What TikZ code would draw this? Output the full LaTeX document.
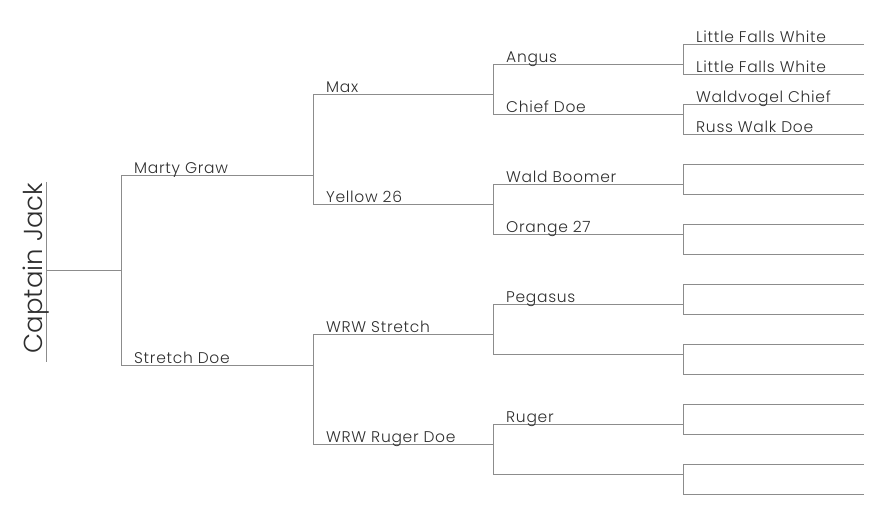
\documentclass[tikz,border=0pt]{standalone}
\usepackage{fontspec}
\setmainfont{Poppins}[UprightFont={* Light}]
\newfontfamily\namefont{Poppins}[UprightFont={* Light}, LetterSpace=4.5]
\definecolor{linegray}{HTML}{8C8C8C}
\definecolor{inkgray}{HTML}{2E2E2E}
\tikzset{
    bar/.style={draw=linegray, line width=1pt},
    lbl/.style={anchor=base west, inner sep=0pt, text=inkgray, font=\namefont\fontsize{15.5}{18}\selectfont}
}

\begin{document}
\begin{tikzpicture}[x=1pt, y=-1pt]
    \useasboundingbox (0,0) rectangle (884,526);

    % Define the line ends of each generation
    \coordinate (root) at (46,182);
    \coordinate (rootb) at (46,362);
    \coordinate (roote) at (46,271);
    \coordinate (rootf) at (121,271);
    \coordinate (sire) at (121,176);
    \coordinate (siree) at (313,176);
    \coordinate (dam) at (121,366);
    \coordinate (dame) at (313,366);
    \foreach \y [count=\i] in {95,205,335,445} {
        \coordinate (b\i) at (313,\y);
        \coordinate (b\i e) at (493,\y);
    }
    \foreach \y [count=\i] in {65,115,185,235,305,355,425,475} {
        \coordinate (c\i) at (493,\y);
        \coordinate (c\i e) at (683,\y);
    }
    \foreach \i in {1,...,16} {
        \coordinate (d\i) at (683,15+30*\i);
        \coordinate (d\i e) at (864,15+30*\i);
    }

    % Draw the horizontal lines
    \draw[bar] (roote) -- (rootf);
    \draw[bar] (sire) -- (siree);
    \draw[bar] (dam) -- (dame);
    \foreach \i in {1,...,4} \draw[bar] (b\i) -- (b\i e);
    \foreach \i in {1,...,8} \draw[bar] (c\i) -- (c\i e);
    \foreach \i in {1,...,16} \draw[bar] (d\i) -- (d\i e);

    % Draw the brackets joining each pair of parents
    \draw[bar] (root) -- (rootb);
    \draw[bar] (sire) -- (dam);
    \draw[bar] (b1) -- (b2);
    \draw[bar] (b3) -- (b4);
    \foreach \a/\b in {1/2,3/4,5/6,7/8} \draw[bar] (c\a) -- (c\b);
    \foreach \a/\b in {1/2,3/4,5/6,7/8,9/10,11/12,13/14,15/16} \draw[bar] (d\a) -- (d\b);

    % Names
    \node[lbl, rotate=90, anchor=base, font=\rmfamily\fontsize{26}{30}\selectfont] (captain) at (42,268) {Captain Jack};
    \node[lbl] (marty) at ([shift={(13,-2.5)}]sire) {Marty Graw};
    \node[lbl] (stretch) at ([shift={(13,-2.5)}]dam) {Stretch Doe};
    \node[lbl] (max) at ([shift={(13,-2.5)}]b1) {Max};
    \node[lbl] (yellow) at ([shift={(13,-2.5)}]b2) {Yellow 26};
    \node[lbl] (wrwstretch) at ([shift={(13,-2.5)}]b3) {WRW Stretch};
    \node[lbl] (wrwruger) at ([shift={(13,-2.5)}]b4) {WRW Ruger Doe};
    \node[lbl] (angus) at ([shift={(13,-2.5)}]c1) {Angus};
    \node[lbl] (chief) at ([shift={(13,-2.5)}]c2) {Chief Doe};
    \node[lbl] (boomer) at ([shift={(13,-2.5)}]c3) {Wald Boomer};
    \node[lbl] (orange) at ([shift={(13,-2.5)}]c4) {Orange 27};
    \node[lbl] (pegasus) at ([shift={(13,-2.5)}]c5) {Pegasus};
    \node[lbl] (ruger) at ([shift={(13,-2.5)}]c7) {Ruger};
    \node[lbl] (falls) at ([shift={(13,-2.5)}]d1) {Little Falls White};
    \node[lbl] (fallsb) at ([shift={(13,-2.5)}]d2) {Little Falls White};
    \node[lbl] (waldvogel) at ([shift={(13,-2.5)}]d3) {Waldvogel Chief};
    \node[lbl] (russ) at ([shift={(13,-2.5)}]d4) {Russ Walk Doe};

\end{tikzpicture}
\end{document}
